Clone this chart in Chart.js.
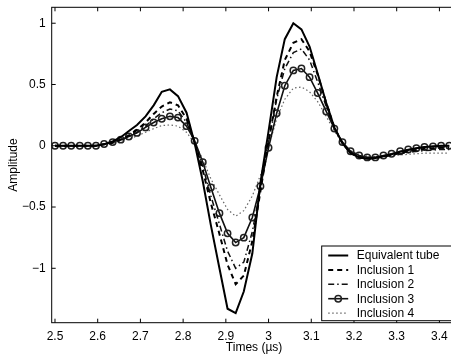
<!DOCTYPE html>
<html>
<head>
<meta charset="utf-8">
<script src="https://cdn.jsdelivr.net/npm/chart.js@4/dist/chart.umd.min.js"></script>
<style>
  html, body { margin: 0; padding: 0; background: #fff; overflow: hidden; }
  #wrap { width: 462px; height: 358px; }
</style>
</head>
<body>
<div id="wrap"><canvas id="chart" width="462" height="358"></canvas></div>
<script>
// sample times (µs), 52 MHz sampling
const times = [2.500, 2.519, 2.538, 2.558, 2.577, 2.596, 2.615, 2.635, 2.654, 2.673,
  2.692, 2.712, 2.731, 2.750, 2.769, 2.788, 2.808, 2.827, 2.846, 2.865,
  2.885, 2.904, 2.923, 2.942, 2.962, 2.981, 3.000, 3.019, 3.038, 3.058,
  3.077, 3.096, 3.115, 3.135, 3.154, 3.173, 3.192, 3.212, 3.231, 3.250,
  3.269, 3.288, 3.308, 3.327, 3.346, 3.365, 3.385, 3.404, 3.423];

const tube = [0, 0, 0, 0, 0, 0, 0.012, 0.035, 0.07, 0.12,
  0.17, 0.24, 0.33, 0.44, 0.46, 0.405, 0.27, 0.02, -0.29, -0.65,
  -1.0, -1.33, -1.365, -1.19, -0.88, -0.3, 0.12, 0.56, 0.87, 1.0,
  0.95, 0.81, 0.59, 0.35, 0.15, 0.02, -0.06, -0.095, -0.105, -0.1,
  -0.085, -0.07, -0.05, -0.035, -0.02, -0.01, -0.005, 0, 0];

const incl1 = [0, 0, 0, 0, 0, 0, 0.012, 0.025, 0.05, 0.085,
  0.13, 0.19, 0.26, 0.32, 0.355, 0.33, 0.22, 0.03, -0.2, -0.47,
  -0.72, -0.97, -1.13, -1.06, -0.78, -0.37, 0.04, 0.4, 0.7, 0.84,
  0.87, 0.77, 0.58, 0.35, 0.15, 0.02, -0.06, -0.095, -0.105, -0.1,
  -0.09, -0.075, -0.06, -0.045, -0.035, -0.025, -0.02, -0.015, -0.015];

const incl2 = [0, 0, 0, 0, 0, 0, 0.012, 0.025, 0.045, 0.075,
  0.11, 0.16, 0.22, 0.27, 0.30, 0.285, 0.19, 0.035, -0.17, -0.41,
  -0.64, -0.86, -1.0, -0.95, -0.7, -0.35, 0.03, 0.38, 0.63, 0.76,
  0.79, 0.70, 0.52, 0.32, 0.14, 0.02, -0.05, -0.085, -0.095, -0.095,
  -0.085, -0.075, -0.065, -0.055, -0.045, -0.04, -0.035, -0.03, -0.03];

const incl3 = [0, 0, 0, 0, 0, 0, 0.014, 0.03, 0.05, 0.075,
  0.105, 0.15, 0.19, 0.22, 0.24, 0.23, 0.16, 0.04, -0.135, -0.34,
  -0.55, -0.715, -0.79, -0.75, -0.585, -0.33, -0.016, 0.265, 0.49, 0.615,
  0.63, 0.56, 0.43, 0.28, 0.14, 0.03, -0.045, -0.08, -0.095, -0.095,
  -0.08, -0.065, -0.045, -0.03, -0.02, -0.01, -0.005, 0, 0];

const incl4 = [0, 0, 0, 0, 0, 0, 0.01, 0.02, 0.035, 0.055,
  0.08, 0.11, 0.14, 0.165, 0.17, 0.16, 0.11, 0.02, -0.11, -0.27,
  -0.40, -0.52, -0.575, -0.53, -0.41, -0.24, -0.01, 0.22, 0.38, 0.47,
  0.48, 0.44, 0.36, 0.24, 0.12, 0.02, -0.04, -0.07, -0.085, -0.09,
  -0.085, -0.08, -0.075, -0.07, -0.065, -0.06, -0.06, -0.06, -0.06];

const xTicks = [2.5, 2.6, 2.7, 2.8, 2.9, 3.0, 3.1, 3.2, 3.3, 3.4];
const yTicks = [-1, -0.5, 0, 0.5, 1];
const seriesNames = ["Equivalent tube", "Inclusion 1", "Inclusion 2", "Inclusion 3", "Inclusion 4"];

const FONT = "'Liberation Sans', Arial, Helvetica, sans-serif";
Chart.defaults.font.family = FONT;
Chart.defaults.font.size = 12;
Chart.defaults.color = "#000";

const pts = (vals) => vals.map((v, i) => ({ x: times[i], y: v }));

const datasets = [
  { label: seriesNames[0], data: pts(tube), borderColor: "#000", borderWidth: 2, pointRadius: 0 },
  { label: seriesNames[1], data: pts(incl1), borderColor: "#000", borderWidth: 2, borderDash: [5, 4], pointRadius: 0 },
  { label: seriesNames[2], data: pts(incl2), borderColor: "#111", borderWidth: 1.5, borderDash: [6, 3, 1.5, 3], pointRadius: 0 },
  { label: seriesNames[3], data: pts(incl3), borderColor: "#111", borderWidth: 1.6, pointRadius: 3.2,
    pointBorderColor: "#222", pointBorderWidth: 1.5, pointBackgroundColor: "rgba(255,255,255,0)", pointStyle: "circle" },
  { label: seriesNames[4], data: pts(incl4), borderColor: "#666", borderWidth: 1.2, borderDash: [1.5, 2.5], pointRadius: 0 }
];

// box, inward ticks and legend, MATLAB style
const framePlugin = {
  id: "frame",
  afterDatasetsDraw(chart) {
    const { ctx, chartArea: a, scales } = chart;
    ctx.save();
    ctx.strokeStyle = "#000";
    ctx.lineWidth = 1;
    ctx.strokeRect(a.left, a.top, a.right - a.left, a.bottom - a.top);
    ctx.beginPath();
    xTicks.forEach(t => {
      const px = scales.x.getPixelForValue(t);
      ctx.moveTo(px, a.bottom); ctx.lineTo(px, a.bottom - 4);
      ctx.moveTo(px, a.top); ctx.lineTo(px, a.top + 4);
    });
    yTicks.forEach(t => {
      const py = scales.y.getPixelForValue(t);
      ctx.moveTo(a.left, py); ctx.lineTo(a.left + 4, py);
      ctx.moveTo(a.right, py); ctx.lineTo(a.right - 4, py);
    });
    ctx.stroke();

    // legend
    const lx = 321.7, ly = 246, lw = 140, lh = 74.7;
    ctx.fillStyle = "#fff";
    ctx.fillRect(lx, ly, lw, lh);
    ctx.strokeRect(lx, ly, lw, lh);
    ctx.font = "12px " + FONT;
    ctx.textBaseline = "middle";
    ctx.textAlign = "left";
    chart.data.datasets.forEach((ds, i) => {
      const y = ly + 9.5 + i * 14.4;
      ctx.save();
      ctx.strokeStyle = ds.borderColor;
      ctx.lineWidth = ds.borderWidth;
      ctx.setLineDash(ds.borderDash || []);
      ctx.beginPath();
      ctx.moveTo(lx + 6.5, y); ctx.lineTo(lx + 26.5, y);
      ctx.stroke();
      ctx.setLineDash([]);
      if (ds.pointRadius) {
        ctx.lineWidth = ds.pointBorderWidth;
        ctx.strokeStyle = ds.pointBorderColor;
        ctx.beginPath();
        ctx.arc(lx + 16.5, y, ds.pointRadius, 0, Math.PI * 2);
        ctx.stroke();
      }
      ctx.restore();
      ctx.fillStyle = "#000";
      ctx.fillText(ds.label, lx + 35, y + 0.5);
    });
    ctx.restore();
  }
};

new Chart(document.getElementById("chart"), {
  type: "line",
  data: { datasets },
  options: {
    responsive: false,
    animation: false,
    layout: { padding: { top: 7.3, right: 2, bottom: 0, left: 0 } },
    elements: { line: { tension: 0 } },
    plugins: { legend: { display: false }, tooltip: { enabled: false } },
    scales: {
      x: {
        type: "linear",
        min: 2.4923,
        max: 3.44,
        afterBuildTicks: s => { s.ticks = xTicks.map(v => ({ value: v })); },
        afterFit: s => { s.height = 35.3; s.paddingLeft = 0; s.paddingRight = 0; },
        grid: { display: false, drawTicks: false },
        border: { display: false },
        ticks: { padding: 7, maxRotation: 0, autoSkip: false,
          callback: v => String(Math.round(v * 10) / 10) },
        title: { display: true, text: "Times (µs)", padding: { top: 0, bottom: 3 } }
      },
      y: {
        min: -1.444,
        max: 1.13,
        afterBuildTicks: s => { s.ticks = yTicks.map(v => ({ value: v })); },
        afterFit: s => { s.width = 51.7; s.paddingTop = 0; s.paddingBottom = 0; },
        grid: { display: false, drawTicks: false },
        border: { display: false },
        ticks: { padding: 6, callback: v => String(v).replace("-", "\u2212") },
        title: { display: true, text: "Amplitude", padding: { top: 6.8, bottom: 0 } }
      }
    }
  },
  plugins: [framePlugin]
});
</script>
</body>
</html>
